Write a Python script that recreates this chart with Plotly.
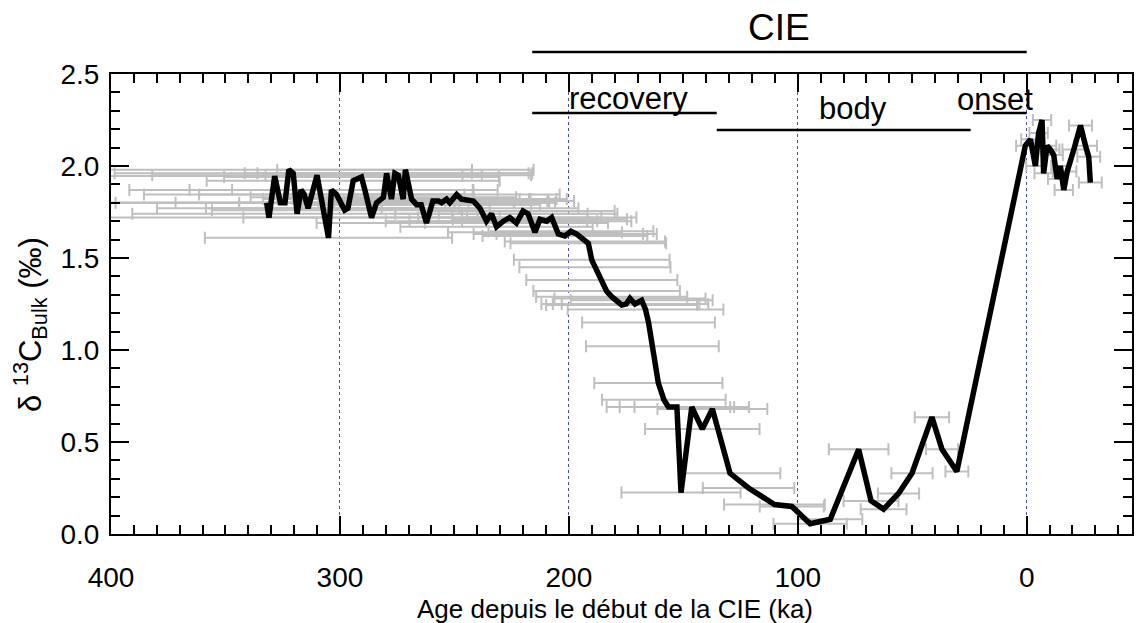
import plotly.graph_objects as go

# Age since onset of the CIE (ka), bulk carbonate d13C (permil), age uncertainty (ka, half-width)
age = [332, 331, 328.5, 326, 324, 322.3, 320.4, 318.7, 317, 315.6, 313.9, 310, 307.8, 305, 303.7,
       301.5, 297.9, 296.5, 294.2, 290.6, 289.1, 286.2, 284, 281, 279.6, 277.5, 276, 274.5, 272.4,
       271.4, 268.7, 266.5, 264.5, 262.2, 259.4, 257, 255.6, 253.4, 252, 249, 246.9, 241.7, 238.8,
       236, 233.8, 231.6, 228.6, 225.8, 222.9, 220, 217.8, 214.8, 212.6, 209.7, 207.5, 204.6, 201.7,
       199.1, 196.6, 193, 191.5, 190, 188.6, 185.6, 183.5, 181.3, 178, 176.9, 175, 173.3, 171.1,
       168.2, 166.5, 165.2, 163.5, 160.9, 158.5, 156.5, 152.8, 151, 146.3, 141.7, 137.3, 129.6,
       121.5, 110.2, 102.6, 94.6, 85.8, 73.4, 68, 62.5, 56, 50.1, 41.4, 37, 30.5, 0.6, -1.6, -3.8,
       -5.2, -6.7, -7.4, -8.9, -10.3, -11.8, -13.3, -14.7, -16.2, -17.7, -20.6, -23.5, -25.7, -27.1,
       -27.8]
d13c = [1.80, 1.72, 1.945, 1.80, 1.80, 1.98, 1.96, 1.74, 1.87, 1.845, 1.77, 1.95, 1.80, 1.61, 1.87,
        1.845, 1.76, 1.77, 1.92, 1.94, 1.87, 1.72, 1.80, 1.83, 1.96, 1.82, 1.96, 1.95, 1.82,
        1.98, 1.82, 1.79, 1.79, 1.69, 1.81, 1.81, 1.80, 1.82, 1.80, 1.845, 1.82, 1.81, 1.77,
        1.70, 1.74, 1.67, 1.70, 1.72, 1.69, 1.755, 1.74, 1.64, 1.71, 1.70, 1.72, 1.63, 1.62,
        1.645, 1.63, 1.59, 1.58, 1.49, 1.45, 1.38, 1.32, 1.29, 1.25, 1.245, 1.25, 1.28, 1.25,
        1.27, 1.22, 1.15, 1.02, 0.82, 0.73, 0.69, 0.69, 0.225, 0.69, 0.57, 0.68, 0.33,
        0.25, 0.16, 0.15, 0.056, 0.08, 0.46, 0.18, 0.135, 0.22, 0.33, 0.635, 0.46, 0.34, 2.11, 2.145, 2.0,
        2.18, 2.25, 1.96, 2.11, 2.09, 2.06, 1.93, 2.0, 1.87, 1.97, 2.09, 2.22, 2.11, 2.05,
        1.91]
age_err = [78, 80, 82, 76, 74, 80, 78, 72, 75, 70, 66, 72, 64, 54, 62,
           60, 58, 62, 64, 60, 58, 56, 60, 58, 62, 56, 60, 58, 55,
           56, 52, 50, 52, 48, 50, 48, 47, 48, 46, 45, 46, 44, 43,
           44, 42, 42, 41, 40, 40, 40, 39, 38, 38, 37, 37, 37, 36,
           36, 35, 35, 34, 34, 33, 33, 32, 33, 34, 33, 32, 33, 32,
           31, 34, 29, 29, 28, 27, 27, 25, 26, 25, 25, 24, 22,
           20, 22, 14, 16, 14, 13, 12, 10, 9, 9, 7.5, 7, 5, 4, 4, 4,
           4, 4, 4, 4, 4, 4, 4, 4, 4, 4, 5, 5, 5, 5,
           5]

# Interval bars above the curve: (label, start age, end age)
phase_names = ["recovery", "body", "onset"]
phase_start = [216, 135.4, 23.5]
phase_end = [135.4, 24.5, 0]
cie_start, cie_end = 216, 0

FONT = "Arial, 'Liberation Sans', Helvetica, sans-serif"

fig = go.Figure()

fig.add_trace(go.Scatter(
    x=age, y=d13c, mode="markers",
    marker=dict(size=1, color="rgba(0,0,0,0)"),
    error_x=dict(type="data", array=age_err, visible=True,
                 color="#bfbfbf", thickness=2, width=6),
    showlegend=False, hoverinfo="skip"))

fig.add_trace(go.Scatter(
    x=age, y=d13c, mode="lines",
    line=dict(color="black", width=5.5),
    showlegend=False))

axis_common = dict(
    showline=True, linecolor="black", linewidth=2, mirror="allticks",
    ticks="inside", ticklen=18, tickwidth=1.5, tickcolor="black",
    tickfont=dict(family=FONT, size=28, color="black"),
    zeroline=False,
)

fig.update_xaxes(
    range=[400, -46], tickmode="linear", tick0=0, dtick=100,
    showgrid=True, gridcolor="#4b4bb0", griddash="dot", gridwidth=1,
    minor=dict(dtick=10, ticks="inside", ticklen=9, tickwidth=1.5, tickcolor="black", showgrid=False),
    ticklabelstandoff=17,
    **axis_common)

fig.update_yaxes(
    range=[0, 2.5], tickmode="linear", tick0=0, dtick=0.5, tickformat=".1f",
    showgrid=False,
    minor=dict(dtick=0.1, ticks="inside", ticklen=9, tickwidth=1.5, tickcolor="black", showgrid=False),
    ticklabelstandoff=4,
    **axis_common)

shapes = [dict(type="line", xref="x", yref="paper", x0=cie_start, x1=cie_end,
               y0=1.048, y1=1.048, line=dict(color="black", width=2.5))]
phase_y = [0.915, 0.878, 0.915]
for s, e, yy in zip(phase_start, phase_end, phase_y):
    shapes.append(dict(type="line", xref="x", yref="paper", x0=s, x1=e, y0=yy, y1=yy,
                       line=dict(color="black", width=2.5)))

annotations = [
    dict(text="CIE", x=108, y=1.10, xref="x", yref="paper", showarrow=False,
         xanchor="center", yanchor="middle", font=dict(family=FONT, size=37, color="black")),
]
phase_label_x = [174, 75.7, 13.8]
phase_label_y = [0.946, 0.924, 0.944]
for name, lx, ly in zip(phase_names, phase_label_x, phase_label_y):
    annotations.append(dict(text=name, x=lx, y=ly, xref="x", yref="paper", showarrow=False,
                            xanchor="center", yanchor="middle",
                            font=dict(family=FONT, size=31, color="black")))
annotations.append(dict(text="Age depuis le début de la CIE (ka)", x=0.4934, y=-0.163,
                        xref="paper", yref="paper", showarrow=False,
                        xanchor="center", yanchor="middle",
                        font=dict(family=FONT, size=26, color="black")))
annotations.append(dict(text="δ <sup>13</sup>C<sub>Bulk</sub> (‰)", x=-0.079, y=0.455,
                        xref="paper", yref="paper", showarrow=False, textangle=-90,
                        xanchor="center", yanchor="middle",
                        font=dict(family=FONT, size=31, color="black")))

# the page adds an 8 px body margin, so margins are shifted to keep the plot area in place
fig.update_layout(
    width=1138, height=623,
    margin=dict(l=103, r=12, t=66, b=97),
    plot_bgcolor="white", paper_bgcolor="white",
    shapes=shapes, annotations=annotations,
    showlegend=False,
)

fig.write_html("out.html")
